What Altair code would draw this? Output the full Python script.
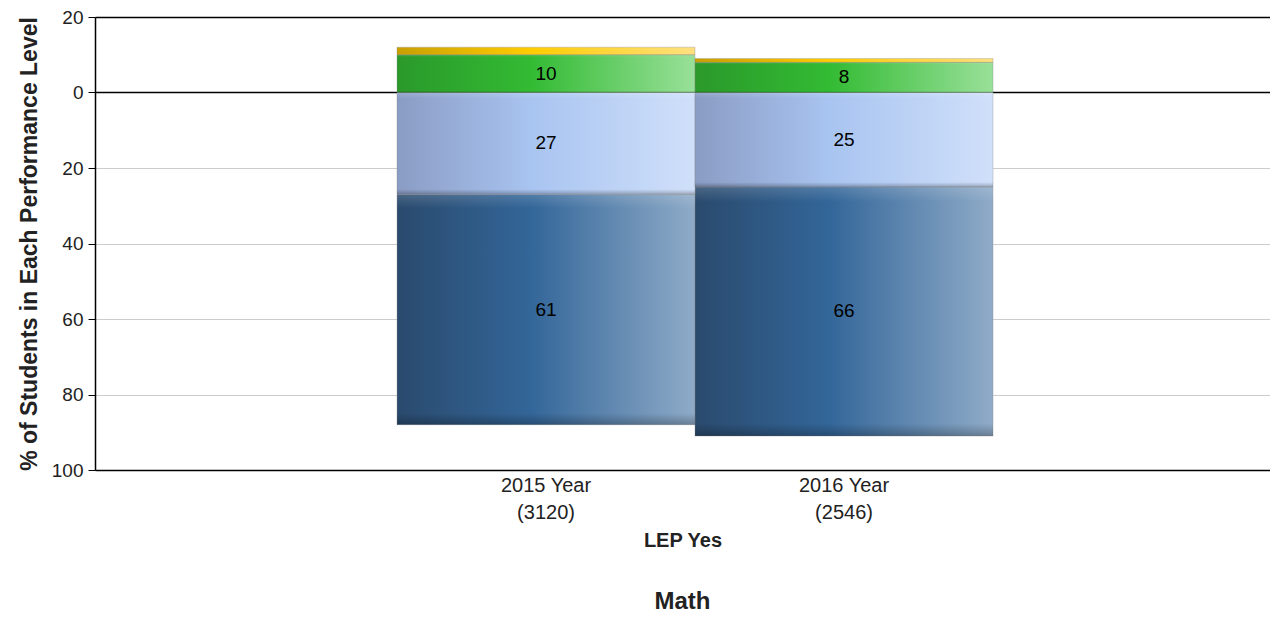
import altair as alt
import pandas as pd

years = ["2015 Year", "2016 Year"]
counts = ["(3120)", "(2546)"]
levels = ["Level 1", "Level 2", "Level 3", "Level 4"]
level1 = [61, 66]   # dark blue (below zero)
level2 = [27, 25]   # light blue (below zero)
level3 = [10, 8]    # green (above zero)
level4 = [2, 1]     # gold (above zero)

rows = []
for i, yr in enumerate(years):
    cat = yr + "\n" + counts[i]
    rows.append(dict(cat=cat, level="Level 2", v=level2[i], y0=0, y1=-level2[i]))
    rows.append(dict(cat=cat, level="Level 1", v=level1[i], y0=-level2[i], y1=-level2[i] - level1[i]))
    rows.append(dict(cat=cat, level="Level 3", v=level3[i], y0=0, y1=level3[i]))
    rows.append(dict(cat=cat, level="Level 4", v=level4[i], y0=level3[i], y1=level3[i] + level4[i]))
df = pd.DataFrame(rows)
df["mid"] = (df["y0"] + df["y1"]) / 2

def grad(c0, c1, c2):
    return alt.Gradient(
        gradient="linear", x1=0, x2=1, y1=0, y2=0,
        stops=[alt.GradientStop(color=c0, offset=0),
               alt.GradientStop(color=c1, offset=0.45),
               alt.GradientStop(color=c2, offset=1)])

fills = {
    "Level 1": grad("#2a4a6d", "#336699", "#8fabc8"),
    "Level 2": grad("#8a9cc4", "#a8c4f0", "#d0e0fa"),
    "Level 3": grad("#2a992a", "#33bb33", "#99e099"),
    "Level 4": grad("#c89f00", "#ffcc00", "#ffe080"),
}

cat_order = [y + "\n" + c for y, c in zip(years, counts)]

xenc = alt.X("cat:N", sort=cat_order,
             scale=alt.Scale(paddingInner=0, paddingOuter=0.9715, align=0.5216),
             axis=alt.Axis(title="LEP Yes", labelAngle=0, ticks=False,
                           labelExpr="split(datum.label, '\\n')",
                           labelFont="Liberation Sans", labelFontSize=20,
                           labelColor="#222222", labelPadding=5, labelLineHeight=27,
                           titleFont="Liberation Sans", titleFontSize=20,
                           titleFontWeight="bold", titleColor="#222222",
                           titlePadding=8, domainColor="#000000", domainWidth=1.5))

yscale = alt.Scale(domain=[-100, 20], nice=False, zero=False)
yaxis = alt.Axis(title="% of Students in Each Performance Level",
                 values=[-100, -80, -60, -40, -20, 0, 20],
                 labelExpr="abs(datum.value)",
                 labelFont="Liberation Sans", labelFontSize=19, labelColor="#222222",
                 labelPadding=5, tickSize=7, tickColor="#000000",
                 titleFont="Liberation Sans", titleFontSize=23, titleFontWeight="bold",
                 titleColor="#222222", titlePadding=10,
                 domainColor="#000000", domainWidth=1.5,
                 gridColor={"condition": {"test": "datum.value == 0 || datum.value == 20",
                                          "value": "#000000"}, "value": "#cccccc"},
                 gridWidth={"condition": {"test": "datum.value == 0 || datum.value == 20",
                                          "value": 1.5}, "value": 1})

layers = []
for lv in ["Level 1", "Level 2", "Level 3", "Level 4"]:
    layers.append(
        alt.Chart(df).transform_filter(alt.datum.level == lv)
        .mark_bar(fill=fills[lv], stroke="#8a8a8a", strokeWidth=0.6, strokeOpacity=0.6)
        .encode(x=xenc, y=alt.Y("y0:Q", scale=yscale, axis=yaxis), y2="y1:Q")
    )
    layers.append(
        alt.Chart(df).transform_filter(alt.datum.level == lv)
        .mark_bar(fill=alt.Gradient(
            gradient="linear", x1=0, x2=0, y1=0, y2=1,
            stops=[alt.GradientStop(color="rgba(255,255,255,0.15)", offset=0),
                   alt.GradientStop(color="rgba(255,255,255,0)", offset=0.06),
                   alt.GradientStop(color="rgba(0,0,0,0)", offset=0.95),
                   alt.GradientStop(color="rgba(0,0,0,0.25)", offset=1)]))
        .encode(x=xenc, y=alt.Y("y0:Q", scale=yscale, axis=yaxis), y2="y1:Q")
    )

labels = (alt.Chart(df).transform_filter(alt.datum.level != "Level 4")
          .mark_text(font="Liberation Sans", fontSize=19, color="#000000")
          .encode(x=xenc, y=alt.Y("mid:Q", scale=yscale, axis=yaxis), text="v:Q"))

chart = alt.layer(*layers, labels).properties(
    width=1175, height=453,
    autosize=alt.AutoSizeParams(type="none"),
    padding={"left": 87, "top": 9, "right": 0, "bottom": 146},
    title=alt.TitleParams("Math", orient="bottom", font="Liberation Sans", fontSize=24,
                          fontWeight="bold", color="#222222", offset=40),
).configure_view(stroke=None)

chart.save("out.html", embed_options={"renderer": "svg", "actions": False})
